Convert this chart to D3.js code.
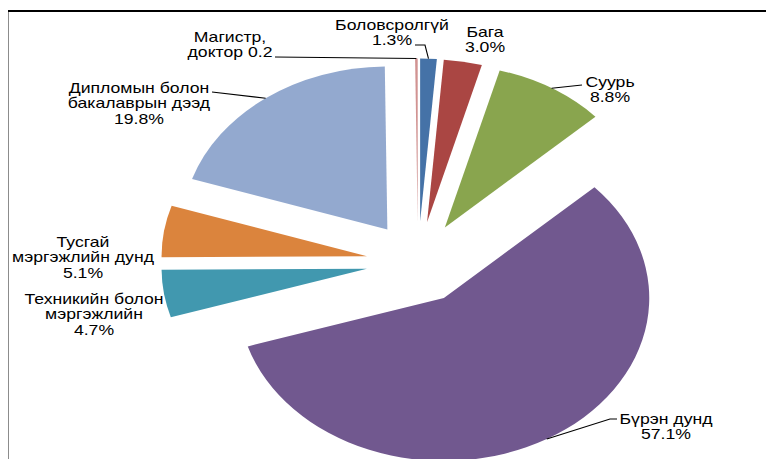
<!DOCTYPE html>
<html>
<head>
<meta charset="utf-8">
<script src="https://cdn.jsdelivr.net/npm/d3@7"></script>
<style>
  body { margin: 0; background: #fff; }
  svg { display: block; }
  .lbl { font-family: Arial, "Liberation Sans", sans-serif; font-size: 14px; fill: #000; }
  .leader { fill: none; stroke: #000; stroke-width: 1.1; }
</style>
</head>
<body>
<div class="chart"></div>
<script>
var W = 766, H = 459;

// data, clockwise from 12 o'clock
var categories = [
  ['Боловсролгүй'],
  ['Бага'],
  ['Суурь'],
  ['Бүрэн дунд'],
  ['Техникийн болон', 'мэргэжлийн'],
  ['Тусгай', 'мэргэжлийн дунд'],
  ['Дипломын болон', 'бакалаврын дээд'],
  ['Магистр,', 'доктор']
];
var values = [1.3, 3.0, 8.8, 57.1, 4.7, 5.1, 19.8, 0.2];
var valueText = ['1.3%', '3.0%', '8.8%', '57.1%', '4.7%', '5.1%', '19.8%', '0.2'];
var colors = ['#4572A7', '#AA4643', '#89A54E', '#71588F', '#4198AF', '#DB843D', '#93A9CF', '#D19392'];

// label layout (center x, first line center y, inline value, leader elbow points)
var labelLayout = [
  {x: 392, y: 25, leader: [[425, 45], [415, 45]]},
  {x: 485, y: 32},
  {x: 610, y: 82, leader: [[582, 85]]},
  {x: 666, y: 419, leader: [[610, 419], [617, 419]]},
  {x: 94, y: 299},
  {x: 83, y: 242},
  {x: 139, y: 88, leader: [[212, 92]]},
  {x: 230, y: 37, inline: true, leader: [[275, 57]]}
];

var cx = 418, cy = 262.5;   // pie center
var kx = 1.26;              // horizontal stretch of the picture
var R = 163;                // radius
var explode = 41;           // explosion distance
var lineH = 15.5;

var svg = d3.select('.chart').append('svg')
  .attr('width', W)
  .attr('height', H);

// frame
svg.append('line')
  .attr('x1', 8.5).attr('x2', 8.5)
  .attr('y1', 11).attr('y2', H)
  .attr('stroke', '#8c8c8c').attr('stroke-width', 1);
svg.append('line')
  .attr('x1', 8).attr('x2', W)
  .attr('y1', 11).attr('y2', 11)
  .attr('stroke', '#000').attr('stroke-width', 2.2);

var pie = d3.pie().sort(null).value(d => d);
var arcs = pie(values);
var arc = d3.arc().innerRadius(0).outerRadius(R);

var mid = d => (d.startAngle + d.endAngle) / 2;

var pieG = svg.append('g')
  .attr('transform', `translate(${cx},${cy}) scale(${kx},1)`);

pieG.selectAll('path')
  .data(arcs)
  .enter().append('path')
    .attr('transform', d => `translate(${explode * Math.sin(mid(d))},${-explode * Math.cos(mid(d))})`)
    .attr('d', arc)
    .attr('fill', (d, i) => colors[i]);

// leader lines: from outer edge of the slice at its mid angle
var line = d3.line();
svg.selectAll('.leader')
  .data(arcs.filter((d, i) => labelLayout[i].leader))
  .enter().append('path')
    .attr('class', 'leader')
    .attr('d', d => {
      var m = mid(d);
      var p0 = [cx + kx * (explode + R) * Math.sin(m), cy - (explode + R) * Math.cos(m)];
      return line([p0].concat(labelLayout[d.index].leader));
    });

// labels
var labels = svg.selectAll('.label')
  .data(categories)
  .enter().append('g')
    .attr('class', 'label')
    .attr('transform', (d, i) => `translate(${labelLayout[i].x},${labelLayout[i].y}) scale(${kx},1)`);

labels.each(function(d, i) {
  var lines = d.slice();
  if (labelLayout[i].inline) {
    lines[lines.length - 1] += ' ' + valueText[i];
  } else {
    lines.push(valueText[i]);
  }
  d3.select(this).selectAll('text')
    .data(lines)
    .enter().append('text')
      .attr('class', 'lbl')
      .attr('text-anchor', 'middle')
      .attr('dy', '0.35em')
      .attr('y', (t, j) => j * lineH)
      .text(t => t);
});
</script>
</body>
</html>
